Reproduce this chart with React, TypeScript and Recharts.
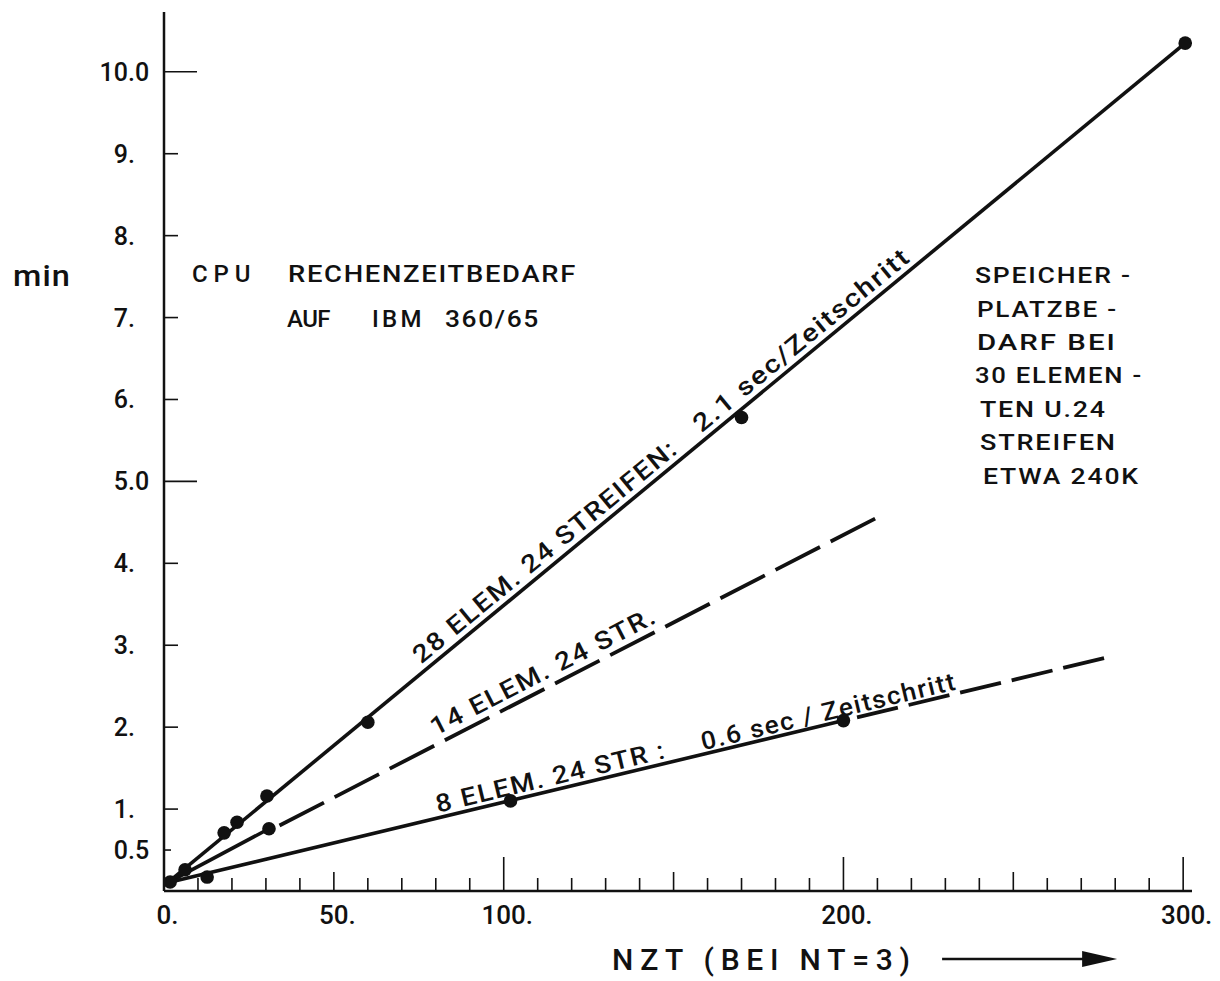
import React from 'react';
import { ComposedChart, Line, Scatter, XAxis, YAxis, ReferenceDot } from 'recharts';

const FONT = 'Roboto, "DejaVu Sans", sans-serif';
const WEIGHT = 500;
const INK = '#111';
const ADJ = 'spacingAndGlyphs';

// ---- axis ticks / labels ----
const xTickValues = [0, 10, 20, 30, 40, 50, 60, 70, 80, 90, 100, 110, 120, 130, 140, 150, 160, 170, 180, 190, 200, 210, 220, 230, 240, 250, 260, 270, 280, 290, 300];
const xLabelValues = [0, 50, 100, 200, 300];
const xLabelTexts = ['0.', '50.', '100.', '200.', '300.'];
const yTickValues = [0.5, 1, 2, 3, 4, 5, 6, 7, 8, 9, 10];
const yTickTexts = ['0.5', '1.', '2.', '3.', '4.', '5.0', '6.', '7.', '8.', '9.', '10.0'];

// ---- measured points (NZT, minutes) ----
const points28 = [
  { x: 1.8, y: 0.11 },
  { x: 6.2, y: 0.26 },
  { x: 17.7, y: 0.71 },
  { x: 21.5, y: 0.84 },
  { x: 30.3, y: 1.16 },
  { x: 60, y: 2.06 },
  { x: 170, y: 5.78 },
  { x: 300.6, y: 10.35 },
];
const points14 = [{ x: 30.9, y: 0.76 }];
const points8 = [
  { x: 12.7, y: 0.17 },
  { x: 102, y: 1.1 },
  { x: 200, y: 2.08 },
];

// ---- fitted lines ----
const line28 = [
  { x: 1, y: 0.1 },
  { x: 300.6, y: 10.35 },
];
const line14Solid = [
  { x: 1, y: 0.1 },
  { x: 30.9, y: 0.76 },
];
const line14Dashed = [
  { x: 34, y: 0.8 },
  { x: 211.4, y: 4.59 },
];
const line8Solid = [
  { x: 1, y: 0.1 },
  { x: 200, y: 2.08 },
];
const line8Dashed = [
  { x: 204, y: 2.12 },
  { x: 278.5, y: 2.86 },
];

type Pt = { x: number; y: number };

function yOnLine(line: Pt[], x: number) {
  const a = line[0];
  const b = line[line.length - 1];
  return a.y + ((b.y - a.y) * (x - a.x)) / (b.x - a.x);
}

// rotated labels along the lines
const lineLabels = [
  { text: '28 ELEM. 24 STREIFEN:', line: line28, at: 77, angle: -39.5, offset: 7, length: 335 },
  { text: '2.1 sec/Zeitschritt', line: line28, at: 159.5, angle: -39.5, offset: 7, length: 273 },
  { text: '14 ELEM. 24 STR.', line: line14Dashed, at: 81, angle: -27.2, offset: 8, length: 251 },
  { text: '8 ELEM. 24 STR :', line: line8Solid, at: 81, angle: -13.5, offset: 5, length: 236 },
  { text: '0.6 sec / Zeitschritt', line: line8Solid, at: 159, angle: -13.5, offset: 4, length: 262 },
];

// right-hand note
const noteLines = ['SPEICHER -', 'PLATZBE -', 'DARF  BEI', '30 ELEMEN -', 'TEN  U.24', 'STREIFEN', 'ETWA 240K'];
const noteDx = [0, 2, 2, 0, 5, 5, 8];
const noteWidths = [157, 141, 140, 168, 127, 137, 157];

const XTick = (props: any) => {
  const { x, y, payload } = props;
  const v = payload.value as number;
  const len = v === 0 ? 0 : v % 100 === 0 ? 34 : v % 50 === 0 ? 19 : 13;
  const idx = xLabelValues.indexOf(v);
  let label = null;
  if (idx >= 0) {
    const t = xLabelTexts[idx];
    const intPart = t.replace('.', '');
    const half = (intPart.length * 0.562 * 26) / 2;
    label = (
      <g fontSize={26} fontFamily={FONT} fontWeight={WEIGHT} fill={INK}>
        <text x={x} y={y + 33} textAnchor="middle">
          {intPart}
        </text>
        <text x={x + half} y={y + 33} textAnchor="start">
          .
        </text>
      </g>
    );
  }
  return (
    <g>
      {len > 0 && <line x1={x} y1={y} x2={x} y2={y - len} stroke={INK} strokeWidth={1.6} />}
      {label}
    </g>
  );
};

const YTick = (props: any) => {
  const { x, y, payload } = props;
  const v = payload.value as number;
  const idx = yTickValues.indexOf(v);
  const t = idx >= 0 ? yTickTexts[idx] : String(v);
  const intPart = t.split('.')[0];
  const rest = t.slice(intPart.length);
  const len = v === 10 || v === 5 ? 33 : v === 0.5 ? 7 : 14;
  const ax = x - 36;
  return (
    <g>
      <line x1={x} y1={y} x2={x + len} y2={y} stroke={INK} strokeWidth={1.6} />
      <g fontSize={25} fontFamily={FONT} fontWeight={WEIGHT} fill={INK}>
        <text x={ax} y={y + 9} textAnchor="end">
          {intPart}
        </text>
        <text x={ax} y={y + 9} textAnchor="start">
          {rest}
        </text>
      </g>
    </g>
  );
};

const Dot = (props: any) => <circle cx={props.cx} cy={props.cy} r={6.8} fill={INK} />;

export default function App() {
  return (
    <div style={{ position: 'absolute', left: 0, top: 0, width: 1220, height: 981, background: '#fff' }}>
      <ComposedChart width={1220} height={981} margin={{ top: 12, right: 28, bottom: 30, left: 64 }}>
        <XAxis
          dataKey="x"
          type="number"
          domain={[0, 302.6]}
          allowDataOverflow
          ticks={xTickValues}
          interval={0}
          tickSize={0}
          tickMargin={0}
          tickLine={false}
          tick={XTick}
          height={60}
          axisLine={{ stroke: INK, strokeWidth: 2.5 }}
        />
        <YAxis
          type="number"
          domain={[0, 10.73]}
          allowDataOverflow
          ticks={yTickValues}
          interval={0}
          tickSize={0}
          tickMargin={0}
          tickLine={false}
          tick={YTick}
          width={100}
          axisLine={{ stroke: INK, strokeWidth: 2.5 }}
        />

        <Line data={line28} dataKey="y" type="linear" stroke={INK} strokeWidth={3.6} dot={false} activeDot={false} isAnimationActive={false} />
        <Line data={line14Solid} dataKey="y" type="linear" stroke={INK} strokeWidth={3.6} dot={false} activeDot={false} isAnimationActive={false} />
        <Line data={line14Dashed} dataKey="y" type="linear" stroke={INK} strokeWidth={3.8} strokeDasharray="50 12" dot={false} activeDot={false} isAnimationActive={false} />
        <Line data={line8Solid} dataKey="y" type="linear" stroke={INK} strokeWidth={3.6} dot={false} activeDot={false} isAnimationActive={false} />
        <Line data={line8Dashed} dataKey="y" type="linear" stroke={INK} strokeWidth={3.8} strokeDasharray="42 11" dot={false} activeDot={false} isAnimationActive={false} />

        <Scatter data={points28} dataKey="y" shape={Dot} isAnimationActive={false} />
        <Scatter data={points14} dataKey="y" shape={Dot} isAnimationActive={false} />
        <Scatter data={points8} dataKey="y" shape={Dot} isAnimationActive={false} />

        {lineLabels.map((l, i) => (
          <ReferenceDot
            key={'ll' + i}
            x={l.at}
            y={yOnLine(l.line, l.at)}
            r={0}
            ifOverflow="visible"
            shape={(p: any) => (
              <g transform={`translate(${p.cx},${p.cy}) rotate(${l.angle})`}>
                <text x={0} y={-l.offset} fontSize={25} fontFamily={FONT} fontWeight={WEIGHT} fill={INK} letterSpacing={1.5} textLength={l.length} lengthAdjust={ADJ}>
                  {l.text}
                </text>
              </g>
            )}
          />
        ))}

        {/* y-axis unit */}
        <ReferenceDot
          x={-44.45}
          y={7.385}
          r={0}
          ifOverflow="visible"
          shape={(p: any) => (
            <text x={p.cx} y={p.cy} fontSize={30} fontFamily={FONT} fontWeight={WEIGHT} fill={INK} letterSpacing={1} textLength={58} lengthAdjust={ADJ}>
              min
            </text>
          )}
        />

        {/* CPU note */}
        <ReferenceDot
          x={8.24}
          y={7.434}
          r={0}
          ifOverflow="visible"
          shape={(p: any) => (
            <g fontFamily={FONT} fontWeight={WEIGHT} fontSize={24} fill={INK} letterSpacing={1.5}>
              <text x={p.cx} y={p.cy} textLength={60} lengthAdjust="spacing">CPU</text>
              <text x={p.cx + 96} y={p.cy} textLength={289} lengthAdjust={ADJ}>RECHENZEITBEDARF</text>
              <text x={p.cx + 95} y={p.cy + 45} textLength={45} lengthAdjust="spacing">AUF</text>
              <text x={p.cx + 180} y={p.cy + 45} textLength={51} lengthAdjust="spacing">IBM</text>
              <text x={p.cx + 253} y={p.cy + 45} textLength={95} lengthAdjust={ADJ}>360/65</text>
            </g>
          )}
        />

        {/* memory note */}
        <ReferenceDot
          x={238.7}
          y={7.42}
          r={0}
          ifOverflow="visible"
          shape={(p: any) => (
            <g fontFamily={FONT} fontWeight={WEIGHT} fontSize={22} fill={INK} letterSpacing={1.5} style={{ whiteSpace: 'pre' }}>
              {noteLines.map((t, i) => (
                <text key={i} x={p.cx + noteDx[i]} y={p.cy + i * 33.4} textLength={noteWidths[i]} lengthAdjust={ADJ}>
                  {t}
                </text>
              ))}
            </g>
          )}
        />

        {/* x-axis title with arrow */}
        <ReferenceDot
          x={131.9}
          y={-0.964}
          r={0}
          ifOverflow="visible"
          shape={(p: any) => (
            <g>
              <text x={p.cx} y={p.cy} fontSize={30} fontFamily={FONT} fontWeight={WEIGHT} fill={INK} textLength={298} lengthAdjust="spacing">
                NZT (BEI NT=3)
              </text>
              <line x1={p.cx + 330} y1={p.cy - 11} x2={p.cx + 476} y2={p.cy - 11} stroke={INK} strokeWidth={2.5} />
              <polygon
                points={`${p.cx + 470},${p.cy - 19} ${p.cx + 505},${p.cy - 11} ${p.cx + 470},${p.cy - 3}`}
                fill={INK}
              />
            </g>
          )}
        />
      </ComposedChart>
    </div>
  );
}
